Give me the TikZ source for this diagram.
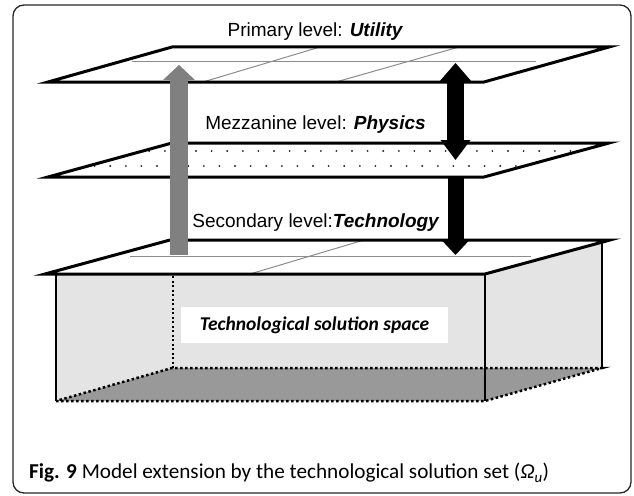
\documentclass[tikz,border=0pt]{standalone}
\usepackage{fontspec}
\setmainfont{Liberation Sans}
\newfontfamily\capfont{Carlito}
\usetikzlibrary{arrows.meta}
\definecolor{frameGray}{RGB}{40,40,40}
\definecolor{barGray}{RGB}{128,128,128}
\definecolor{faceGray}{RGB}{228,228,228}
\definecolor{floorGray}{RGB}{153,153,153}
\definecolor{gridGray}{RGB}{140,140,140}

\begin{document}
\begin{tikzpicture}[x=1pt, y=-1pt,
    plane/.style={draw, line width=3pt, line join=miter},
    gridline/.style={draw=gridGray, line width=1pt},
    edgeline/.style={draw, line width=1.6pt},
    floorline/.style={draw, line width=2.5pt, dash pattern=on 2.5pt off 2.5pt},
    hiddenline/.style={draw, line width=2pt, dash pattern=on 2pt off 2.5pt},
    level/.style={font=\fontsize{19}{22}\selectfont, inner sep=1pt}
]
\useasboundingbox (0,0) rectangle (634,495);
\draw[frameGray, line width=1.3pt, rounded corners=11pt] (13,5) rectangle (631,493);

% primary plane
\fill[white] (48,82) -- (484,82) -- (609,47) -- (172,47) -- cycle;
\draw[gridline] (132,62) -- (536,62);
\draw[gridline] (320,47) -- (203,82);
\draw[gridline] (459,47) -- (336,82);
\draw[plane] (48,82) -- (484,82) -- (609,47) -- (172,47) -- cycle;

% mezzanine plane, dotted
\fill[white] (48,177) -- (484,177) -- (609,143) -- (172,143) -- cycle;
\begin{scope}
  \clip (48,177) -- (484,177) -- (609,143) -- (172,143) -- cycle;
  \foreach \y/\s in {151/0, 166/7.8} {
    \foreach \x in {0,...,38} {
      \fill[black!85] ({40+\s+15.6*\x},\y) circle (1.05pt);
    }
  }
\end{scope}
\draw[plane] (48,177) -- (484,177) -- (609,143) -- (172,143) -- cycle;

% solution space box
\fill[faceGray] (56,274) rectangle (485,401);
\fill[faceGray] (485,274) -- (602,242) -- (602,367) -- (485,401) -- cycle;
\fill[floorGray] (56,401) -- (172,368) -- (602,368) -- (485,401) -- cycle;
\draw[edgeline] (56,274) -- (56,401);
\draw[edgeline] (485,274) -- (485,401);
\draw[edgeline] (602,242) -- (602,367);
\draw[floorline] (56,401) -- (485,401) -- (602,368) -- (172,368) -- cycle;
\draw[hiddenline] (173,240) -- (173,368);
\fill[white] (45,274) -- (485,274) -- (610,240) -- (170,240) -- cycle;
\draw[gridline] (130,256) -- (531,256);
\draw[gridline] (250,274) -- (364,240);
\draw[plane] (45,274) -- (485,274) -- (610,240) -- (170,240) -- cycle;

% arrows
\coordinate (gBase) at (179,255);
\coordinate (gTip) at (179,65);
\coordinate (bTop) at (455.5,63);
\coordinate (bMid) at (455.5,160);
\coordinate (bStart) at (455.5,177);
\coordinate (bEnd) at (455.5,255);
\draw[barGray, line width=18pt, -{Triangle[width=32pt,length=15pt,line width=0pt]}] (gBase) -- (gTip);
\draw[black, line width=17pt, {Triangle[width=33pt,length=19pt,line width=0pt]}-{Triangle[width=30pt,length=20pt,line width=0pt]}] (bTop) -- (bMid);
\draw[black, line width=16pt, -{Triangle[width=28pt,length=15pt,line width=0pt]}] (bStart) -- (bEnd);

% labels
\node[level] (prim) at (315.5,32) {Primary level: \textbf{\textit{Utility}}};
\node[level] (mezz) at (315.5,125) {Mezzanine level: \textbf{\textit{Physics}}};
\node[level] (sec) at (316,223) {Secondary level:\textbf{\textit{Technology}}};
\node[fill=white, minimum width=267pt, minimum height=36pt, font=\capfont\fontsize{19.5}{22}\selectfont\bfseries\itshape] (space) at (314.5,325) {Technological solution space};
\node[anchor=west, inner sep=0pt, font=\capfont\fontsize{21.2}{25}\selectfont] (cap) at (29,473) {\textbf{Fig. 9} Model extension by the technological solution set (\textit{Ω}\textsubscript{\textit{u}})};
\end{tikzpicture}
\end{document}
